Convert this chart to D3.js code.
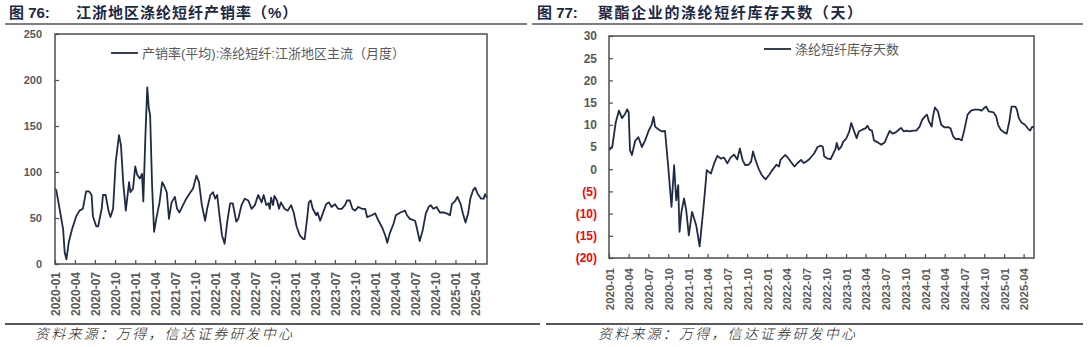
<!DOCTYPE html>
<html>
<head>
<meta charset="utf-8">
<script src="https://cdn.jsdelivr.net/npm/d3@7"></script>
<style>
  body { margin: 0; background: #fff; }
  svg { display: block; }
</style>
</head>
<body>
<svg id="chart" width="1088" height="347"></svg>
<script>
// ---- 江浙地区涤纶短纤产销率（%） ----
const salesDates = [
  "2020-01-01","2020-01-07","2020-01-22","2020-02-07","2020-02-14","2020-02-22","2020-03-04","2020-03-19",
  "2020-04-07","2020-04-22","2020-05-07","2020-05-22","2020-06-04","2020-06-16","2020-06-22","2020-07-07",
  "2020-07-16","2020-08-01","2020-08-07","2020-08-19","2020-09-01","2020-09-10","2020-09-22","2020-10-04",
  "2020-10-19","2020-10-28","2020-11-07","2020-11-19","2020-12-04","2020-12-10","2020-12-22","2021-01-01",
  "2021-01-10","2021-01-22","2021-02-01","2021-02-07","2021-02-16","2021-02-25","2021-03-04","2021-03-10",
  "2021-03-19","2021-03-28","2021-04-07","2021-04-22","2021-05-04","2021-05-13","2021-05-25","2021-06-04",
  "2021-06-16","2021-07-01","2021-07-11","2021-07-22","2021-08-07","2021-08-22","2021-09-10","2021-09-22",
  "2021-10-07","2021-10-19","2021-11-01","2021-11-16","2021-11-25","2021-12-10","2021-12-22","2022-01-01",
  "2022-01-10","2022-01-19","2022-02-01","2022-02-13","2022-02-25","2022-03-10","2022-03-22","2022-04-07",
  "2022-04-16","2022-05-01","2022-05-16","2022-06-01","2022-06-16","2022-07-01","2022-07-16","2022-08-01",
  "2022-08-10","2022-08-22","2022-09-01","2022-09-07","2022-09-13","2022-09-22","2022-09-28","2022-10-10",
  "2022-10-19","2022-10-28","2022-11-13","2022-11-28","2022-12-13","2022-12-25","2023-01-07","2023-01-22",
  "2023-02-07","2023-02-13","2023-02-25","2023-03-04","2023-03-13","2023-03-22","2023-04-07","2023-04-13",
  "2023-04-25","2023-05-07","2023-05-22","2023-06-04","2023-06-16","2023-07-01","2023-07-16","2023-08-01",
  "2023-08-16","2023-08-25","2023-09-07","2023-09-19","2023-10-01","2023-10-16","2023-11-01","2023-11-16",
  "2023-11-25","2023-12-16","2024-01-01","2024-01-16","2024-02-01","2024-02-16","2024-02-25","2024-03-07",
  "2024-03-25","2024-04-04","2024-04-25","2024-05-16","2024-05-25","2024-06-07","2024-07-01","2024-07-10",
  "2024-07-22","2024-08-04","2024-08-19","2024-09-01","2024-09-10","2024-09-22","2024-10-07","2024-10-22",
  "2024-11-07","2024-11-22","2024-12-07","2024-12-16","2025-01-01","2025-01-10","2025-01-25","2025-02-04",
  "2025-02-16","2025-02-28","2025-03-10","2025-03-22","2025-04-01","2025-04-13","2025-04-28","2025-05-10",
  "2025-05-16","2025-05-25"
];
const salesValues = [
  82, 80, 60, 38, 13, 5, 24, 38,
  52, 58, 60, 79, 79, 75, 52, 41,
  41, 60, 75, 75, 58, 51, 60, 111,
  140, 129, 89, 58, 89, 78, 82, 106,
  97, 93, 98, 68, 136, 192, 169, 162,
  85, 35, 49, 67, 89, 85, 78, 49,
  67, 73, 60, 56, 64, 71, 78, 82,
  96, 89, 64, 47, 60, 75, 78, 71,
  75, 56, 31, 22, 46, 66, 66, 46,
  49, 64, 71, 69, 60, 64, 75, 67,
  75, 64, 66, 60, 72, 64, 74, 69,
  60, 67, 60, 58, 64, 56, 41, 31,
  27, 27, 51, 67, 69, 60, 53, 56,
  47, 55, 65, 67, 62, 65, 60, 60,
  64, 69, 69, 60, 58, 62, 60, 60,
  51, 53, 55, 47, 40, 31, 23, 33,
  44, 53, 56, 58, 53, 49, 47, 38,
  25, 36, 55, 62, 64, 60, 62, 56,
  56, 55, 53, 65, 69, 73, 65, 55,
  45, 55, 71, 80, 83, 76, 71, 71,
  76, 72
];
const salesYTicks = [0, 50, 100, 150, 200, 250];
const salesLegend = "产销率(平均):涤纶短纤:江浙地区主流（月度）";

// ---- 聚酯企业的涤纶短纤库存天数（天） ----
const stockDates = [
  "2020-01-01","2020-01-16","2020-02-01","2020-02-16","2020-03-01","2020-03-16","2020-03-25","2020-04-01",
  "2020-04-07","2020-04-16","2020-05-01","2020-05-16","2020-06-01","2020-06-16","2020-07-01","2020-07-16",
  "2020-07-25","2020-08-01","2020-08-16","2020-09-01","2020-09-16","2020-10-01","2020-10-16","2020-10-28",
  "2020-11-07","2020-11-16","2020-11-22","2020-12-01","2020-12-13","2020-12-23","2021-01-04","2021-01-19",
  "2021-02-07","2021-02-23","2021-03-04","2021-03-16","2021-03-28","2021-04-16","2021-05-01","2021-05-16",
  "2021-06-01","2021-06-16","2021-07-01","2021-07-16","2021-08-01","2021-08-16","2021-08-28","2021-09-10",
  "2021-09-22","2021-10-07","2021-10-19","2021-10-28","2021-11-07","2021-11-22","2021-12-07","2021-12-25",
  "2022-01-10","2022-01-25","2022-02-13","2022-02-25","2022-03-04","2022-03-25","2022-04-07","2022-04-25",
  "2022-05-07","2022-05-22","2022-06-07","2022-06-19","2022-07-01","2022-07-16","2022-08-07","2022-08-22",
  "2022-09-07","2022-09-16","2022-09-22","2022-10-07","2022-10-22","2022-11-13","2022-11-19","2022-11-28",
  "2022-12-10","2022-12-19","2023-01-01","2023-01-16","2023-01-25","2023-02-07","2023-02-19","2023-03-01",
  "2023-03-16","2023-04-01","2023-04-10","2023-04-19","2023-05-01","2023-05-10","2023-05-25","2023-06-13",
  "2023-06-28","2023-07-13","2023-07-22","2023-08-04","2023-08-19","2023-09-04","2023-09-13","2023-09-25",
  "2023-10-07","2023-10-22","2023-11-07","2023-11-22","2023-12-07","2023-12-19","2024-01-01","2024-01-10",
  "2024-01-19","2024-02-01","2024-02-07","2024-02-16","2024-03-01","2024-03-16","2024-04-01","2024-04-16",
  "2024-04-28","2024-05-10","2024-05-22","2024-06-07","2024-06-19","2024-07-01","2024-07-16","2024-08-01",
  "2024-08-16","2024-09-04","2024-09-19","2024-10-01","2024-10-10","2024-10-22","2024-11-13","2024-11-25",
  "2024-12-04","2024-12-16","2025-01-01","2025-01-13","2025-01-25","2025-02-04","2025-02-22","2025-03-01",
  "2025-03-10","2025-03-22","2025-04-07","2025-04-22","2025-05-01","2025-05-10","2025-05-19"
];
const stockValues = [
  4.3, 5, 10.5, 13.2, 11.5, 12.5, 13.5, 12.8,
  4.3, 3.2, 6.4, 7.2, 5, 6.5, 8.5, 10,
  11.8, 9.6, 9, 8.5, 8.6, 0.5, -8.5, 0.9,
  -7, -3.6, -14.1, -9.6, -6.6, -9.2, -14.9, -9.6,
  -12.6, -17.4, -13, -7, -0.2, -1, 1.3, 3,
  2.4, 2.6, 1.3, 2.6, 3.3, 2.2, 4.7, 2,
  0.9, 1, 1.7, 4, 2.3, 0.2, -1.3, -2.3,
  -1.3, -0.2, 1, 0.6, 2.1, 3.2, 2.6, 1.4,
  0.6, 1.4, 2.1, 1.4, 1.7, 2.3, 3.6, 5,
  5.3, 5, 2.9, 2.4, 2.3, 4.5, 5.9, 4.4,
  5.1, 6.2, 6.8, 8.5, 10.4, 8.6, 7, 8.5,
  8.9, 9.2, 9.8, 8.9, 8.7, 6.5, 6.1, 5.5,
  6, 7.7, 8.6, 8, 8.3, 9, 9.3, 8.5,
  8.7, 8.5, 8.7, 8.7, 9.6, 11.1, 11.9, 12.3,
  10.8, 9.6, 11.9, 13.9, 13, 10, 9.4, 9.5,
  9.2, 7.4, 6.8, 6.8, 6.5, 8.9, 12.3, 13.2,
  13.4, 13.4, 13.2, 13.8, 14.1, 13, 12.8, 11.9,
  10, 8.9, 8.3, 8, 10.8, 14.1, 14.1, 13.4,
  11.5, 10.5, 10, 9.1, 8.7, 9.5, 9.5
];
const stockYTicks = [-20, -15, -10, -5, 0, 5, 10, 15, 20, 25, 30];
const stockLegend = "涤纶短纤库存天数";

// quarterly category labels shared by both x axes
const quarterLabels = [
  "2020-01","2020-04","2020-07","2020-10","2021-01","2021-04","2021-07","2021-10",
  "2022-01","2022-04","2022-07","2022-10","2023-01","2023-04","2023-07","2023-10",
  "2024-01","2024-04","2024-07","2024-10","2025-01","2025-04"
];

const parseDay = d3.utcParse("%Y-%m-%d");
const parseMonth = d3.utcParse("%Y-%m");
const fmtMonth = d3.utcFormat("%Y-%m");

const svg = d3.select("#chart");
const CJK = "'Liberation Sans', 'Noto Sans CJK SC', sans-serif";
const LINE_COLOR = "#1f2b45";
const AXIS_GREY = "#595959";

// figure headings and rules
function header(xNum, xText, num, text, x0, x1, spacing) {
  svg.append("text").attr("x", xNum).attr("y", 18)
    .attr("font-family", CJK).attr("font-weight", "bold").attr("font-size", 15)
    .attr("fill", "#1b2745").text(num);
  svg.append("text").attr("x", xText).attr("y", 18)
    .attr("font-family", CJK).attr("font-weight", "bold").attr("font-size", 15)
    .attr("letter-spacing", spacing)
    .attr("fill", "#1b2745").text(text);
  svg.append("line").attr("x1", x0).attr("x2", x1).attr("y1", 24).attr("y2", 24)
    .attr("stroke", "#555").attr("stroke-width", 1.5);
}
header(9, 76, "图 76:", "江浙地区涤纶短纤产销率（%）", 5, 527, 1.0);
header(537, 598, "图 77:", "聚酯企业的涤纶短纤库存天数（天）", 532, 1083, 1.6);

function footer(x0, x1, tx) {
  svg.append("line").attr("x1", x0).attr("x2", x1).attr("y1", 324).attr("y2", 324)
    .attr("stroke", "#222").attr("stroke-width", 1.3);
  svg.append("text").attr("x", tx).attr("y", 339)
    .attr("font-family", "'Noto Sans CJK SC', sans-serif").attr("font-style", "italic")
    .attr("font-weight", 300)
    .attr("font-size", 14).attr("letter-spacing", 2.2).attr("fill", "#222")
    .text("资料来源：万得，信达证券研发中心");
}
footer(5, 540, 35);
footer(546, 1083, 598);

function panel(cfg) {
  const dates = cfg.dates.map(parseDay);
  const data = dates.map((d, i) => ({ d, v: cfg.values[i] }));
  const x = d3.scaleUtc().domain([dates[0], dates[dates.length - 1]]).range([cfg.left, cfg.right]);
  const y = d3.scaleLinear().domain(cfg.yDomain).range([cfg.bottom, cfg.top]);
  const g = svg.append("g");

  // y axis (inward ticks, labels on the left)
  const yAxis = d3.axisLeft(y).tickValues(cfg.yTicks).tickSizeInner(-4).tickSizeOuter(0)
    .tickPadding(cfg.yPad).tickFormat(cfg.yFormat);
  const ya = g.append("g").attr("transform", `translate(${cfg.left},0)`).call(yAxis);
  ya.select(".domain").remove();
  ya.selectAll("line").attr("stroke", "#4d4d4d").attr("stroke-width", 1.2);
  ya.selectAll("text").attr("font-family", "'Liberation Sans', Arial, sans-serif")
    .attr("font-weight", "bold").attr("font-size", cfg.yFont)
    .attr("fill", d => (d < 0 ? "#ff0000" : AXIS_GREY));

  // x axis with quarterly category labels, rotated
  const xAxis = d3.axisBottom(x).tickValues(quarterLabels.map(parseMonth))
    .tickSizeInner(-4).tickSizeOuter(0).tickFormat(fmtMonth);
  const xa = g.append("g").attr("transform", `translate(0,${cfg.bottom})`).call(xAxis);
  xa.select(".domain").remove();
  xa.selectAll("line").attr("stroke", "#4d4d4d").attr("stroke-width", 1.2);
  xa.selectAll("text")
    .attr("transform", "rotate(-90)")
    .attr("x", -cfg.xPad).attr("y", 0).attr("dy", "0.36em")
    .attr("text-anchor", "end")
    .attr("font-family", "'Liberation Sans', Arial, sans-serif")
    .attr("font-weight", "bold").attr("font-size", cfg.xFont).attr("fill", AXIS_GREY);

  // series line
  g.append("path").datum(data)
    .attr("fill", "none").attr("stroke", LINE_COLOR).attr("stroke-width", 1.8)
    .attr("stroke-linejoin", "round")
    .attr("d", d3.line().x(p => x(p.d)).y(p => y(p.v)));

  // frame
  g.append("rect").attr("x", cfg.left).attr("y", cfg.top)
    .attr("width", cfg.right - cfg.left).attr("height", cfg.bottom - cfg.top)
    .attr("fill", "none").attr("stroke", "#4d4d4d").attr("stroke-width", 1.5);

  // legend
  g.append("line").attr("x1", cfg.legX).attr("x2", cfg.legX + 27)
    .attr("y1", cfg.legY).attr("y2", cfg.legY)
    .attr("stroke", LINE_COLOR).attr("stroke-width", 1.8);
  g.append("text").attr("x", cfg.legX + 31).attr("y", cfg.legY)
    .attr("dy", "0.35em")
    .attr("font-family", CJK).attr("font-size", 13).attr("fill", AXIS_GREY)
    .text(cfg.legend);
}

panel({
  dates: salesDates, values: salesValues, yTicks: salesYTicks, yDomain: [0, 250],
  yFormat: d3.format("d"),
  left: 55, right: 487, top: 34, bottom: 264,
  yPad: 13, yFont: 11, xFont: 12, xPad: 8,
  legX: 111, legY: 53, legend: salesLegend
});

panel({
  dates: stockDates, values: stockValues, yTicks: stockYTicks, yDomain: [-20, 30],
  yFormat: d => (d < 0 ? `(${Math.abs(d)})` : `${d}`),
  left: 609, right: 1034, top: 36, bottom: 258,
  yPad: 12, yFont: 12, xFont: 11.5, xPad: 10,
  legX: 764, legY: 49, legend: stockLegend
});
</script>
</body>
</html>
